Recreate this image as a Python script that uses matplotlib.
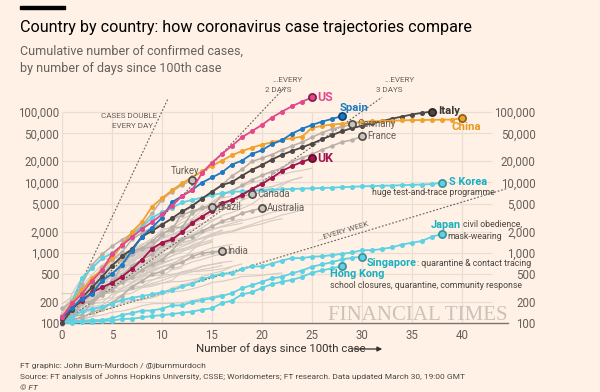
import matplotlib.pyplot as plt
from matplotlib.ticker import NullLocator

# === data: cumulative confirmed cases, day 0 = 100th case ===
us = [120, 190, 260, 400, 560, 960, 1280, 1660, 2180, 2730, 3500, 4630, 6420, 7790,
      13680, 19100, 25490, 33280, 43850, 53740, 65780, 83840, 101660, 121480, 140890, 161810]
spain = [120, 165, 222, 259, 400, 500, 673, 1073, 1695, 2277, 3146, 5232, 6391, 7798, 9942,
         11748, 13910, 17963, 20410, 25374, 28768, 35136, 39885, 49515, 57786, 65719, 73235,
         80110, 87956]
italy = [100, 155, 229, 322, 453, 655, 888, 1128, 1694, 2036, 2502, 3089, 3858, 4636, 5883,
         7375, 9172, 10149, 12462, 15113, 17660, 21157, 24747, 27980, 31506, 35713, 41035,
         47021, 53578, 59138, 63927, 69176, 74386, 80589, 86498, 92472, 97689, 101739]
china = [121, 198, 291, 440, 571, 830, 1287, 1975, 2744, 4515, 5974, 7711, 9692, 11791,
         14380, 17205, 20438, 24324, 28018, 31161, 34546, 37198, 40171, 42638, 44653, 59804,
         63851, 66492, 68500, 70548, 72436, 74185, 74576, 75465, 76288, 76936, 77150, 77658,
         78064, 78497, 81500]
uk = [115, 163, 206, 273, 321, 373, 456, 590, 798, 1140, 1391, 1543, 1950, 2626, 3269, 3983,
      5018, 5683, 6650, 8077, 9529, 11658, 14543, 17089, 19522, 22141]

germany = [130, 159, 196, 262, 482, 670, 799, 1040, 1176, 1457, 1908, 2078, 3675, 4585, 5795,
           7272, 9257, 12327, 15320, 19848, 22213, 24873, 29056, 32986, 37323, 43938, 50871,
           57695, 62095, 66885]
france = [100, 130, 191, 204, 288, 380, 656, 957, 1134, 1217, 1792, 2289, 2289, 3672, 4480,
          4513, 6650, 7652, 9043, 10871, 12612, 14282, 16018, 19856, 22304, 25233, 29155,
          32964, 37575, 40174, 45170]
turkey = [98, 191, 359, 670, 947, 1236, 1529, 1872, 2433, 3629, 5698, 7402, 9217, 10827]
canada = [108, 117, 193, 198, 252, 415, 478, 657, 800, 943, 1277, 1469, 2088, 2790, 3251,
          4042, 4682, 5576, 6280, 6900]
brazil = [162, 200, 321, 372, 621, 793, 1021, 1546, 1924, 2247, 2554, 2985, 3417, 3904,
          4256, 4450]
australia = [107, 128, 128, 200, 250, 297, 377, 452, 568, 681, 791, 1071, 1549, 1682, 2044,
             2364, 2810, 3143, 3640, 3984, 4300]
india = [102, 113, 119, 142, 156, 194, 244, 330, 396, 499, 536, 657, 727, 887, 987, 1024, 1070]

s_korea = [104, 204, 433, 602, 833, 977, 1261, 1766, 2337, 3150, 3736, 4335, 5186, 5621, 6088,
           6593, 7041, 7314, 7478, 7513, 7755, 7869, 7979, 8086, 8162, 8236, 8320, 8413, 8565,
           8652, 8799, 8897, 8961, 9037, 9137, 9241, 9332, 9478, 9900]
japan = [105, 122, 147, 159, 170, 189, 214, 228, 241, 256, 274, 293, 331, 360, 420, 461, 502,
         511, 581, 639, 639, 701, 773, 839, 839, 878, 889, 924, 963, 1007, 1086, 1086, 1128,
         1193, 1307, 1387, 1468, 1693, 1845]
singapore = [102, 106, 108, 110, 110, 117, 130, 138, 150, 150, 160, 178, 178, 200, 212, 226,
             243, 266, 313, 345, 385, 432, 455, 509, 558, 631, 683, 732, 802, 844, 879]
hong_kong = [100, 100, 104, 105, 107, 108, 114, 115, 120, 126, 129, 134, 140, 145, 155, 162,
             192, 208, 256, 273, 317, 356, 386, 410, 453, 518, 560, 600, 641]

# other countries, drawn as unlabelled background lines
others = [
    [114, 214, 268, 337, 374, 491, 652, 652, 1139, 1359, 2200, 2200, 2700, 3028, 4075, 5294,
     6575, 7474, 8795, 9877, 10897, 11811, 12928, 14076, 14829, 15922],
    [128, 188, 265, 321, 382, 503, 503, 804, 959, 1135, 1413, 1705, 2051, 2460, 2994, 3631,
     4204, 4749, 5560, 6412, 7431, 8603, 9762, 10866, 11750],
    [109, 169, 200, 239, 267, 314, 314, 559, 689, 886, 1058, 1243, 1486, 1795, 2257, 2815,
     3401, 3743, 4269, 4937, 6235, 7284, 9134, 10836, 11899],
    [104, 131, 182, 246, 302, 504, 655, 860, 1018, 1332, 1646, 2013, 2388, 2814, 3582, 4474,
     5283, 5588, 6909, 7657, 8271, 8788, 9618],
    [112, 169, 245, 331, 448, 448, 785, 1020, 1280, 1600, 2060, 2362, 2995, 3544, 4268, 5170,
     5962, 6408],
    [109, 131, 193, 213, 298, 337, 433, 677, 705, 883, 1071, 1238, 2369, 2693, 3035, 3619,
     4247, 4247, 4695],
    [101, 161, 203, 248, 355, 500, 599, 814, 961, 1022, 1103, 1190, 1279, 1439, 1639, 1763,
     1934, 2046, 2286, 2526, 2840, 3069, 3447, 3700, 4028],
    [108, 147, 176, 205, 400, 598, 702, 996, 1090, 1221, 1333, 1463, 1550, 1746, 1914, 2118,
     2385, 2621, 2863, 3084, 3369, 3755, 4015, 4284, 4445],
    [90, 264, 444, 617, 804, 836, 875, 933, 1025, 1116, 1225, 1337, 1420, 1514, 1572, 1718,
     1862, 1966, 2201, 2395, 2577, 2860, 3039],
    [149, 197, 238, 428, 566, 673, 790, 900, 1030, 1183, 1306, 1518, 1624, 1796, 2031, 2161,
     2320, 2470, 2626],
    [129, 169, 223, 292, 557, 683, 785, 906, 1125, 1329, 1564, 1819, 2121, 2415, 2615, 2910,
     3235],
    [116, 150, 214, 298, 383, 450, 560, 765, 889, 1047, 1161, 1287, 1472, 1763, 2022, 2395,
     2657, 2817, 3001],
    [155, 201, 238, 238, 434, 537, 632, 746, 922, 1142, 1306, 1610, 1909, 2139, 2449],
    [111, 168, 199, 367, 506, 789, 981, 1082, 1173, 1403, 1595, 1823, 1924, 1962],
    [101, 125, 177, 238, 251, 355, 425, 536, 634, 749, 901, 1051, 1221, 1389, 1638, 1862, 2055],
    [140, 203, 335, 484, 670, 798, 875, 1099, 1333, 1453, 1605, 1831, 1950, 1988],
    [187, 237, 301, 451, 495, 501, 730, 776, 875, 972, 1063, 1201, 1373, 1495, 1865],
    [140, 142, 187, 202, 217, 230, 307, 380, 462, 552, 636, 707, 803, 1075, 1418],
    [114, 147, 177, 212, 272, 322, 411, 599, 721, 827, 934, 1045, 1136, 1245, 1388, 1524],
    [103, 118, 171, 171, 274, 344, 392, 511, 562, 767, 900, 1012, 1104, 1203, 1299, 1453],
    [155, 225, 244, 277, 321, 336, 400, 450, 523, 626, 700, 792, 880, 958, 1041, 1167, 1240,
     1313],
    [99, 190, 228, 331, 331, 387, 418, 418, 495, 530, 624, 695, 743, 821, 892, 966, 1061, 1156],
    [117, 134, 172, 227, 311, 369, 450, 514, 579, 686, 790, 893, 1046, 1155, 1285, 1414],
    [103, 134, 156, 171, 180, 220, 250, 330, 409, 473, 568, 588, 648, 737, 802, 890, 963, 1020,
     1086],
    [114, 147, 199, 253, 306, 367, 438, 495, 658, 840, 1036, 1264, 1534, 1836],
    [118, 164, 203, 251, 316, 367, 405, 475, 585, 717, 848, 993, 1094],
    [123, 131, 158, 184, 260, 277, 308, 367, 433, 576, 762, 906, 1029, 1292, 1452, 1815, 2109],
    [113, 140, 140, 153, 153, 198, 248, 333, 333, 405, 468, 570, 611],
    [141, 181, 219, 253, 275, 275, 286, 341, 383, 414, 442, 480, 528, 562, 632, 684, 730, 756],
    [105, 128, 206, 254, 315, 382, 442, 495, 586, 657, 713, 790],
    [117, 145, 234, 234, 318, 363, 395, 416, 480, 580, 635, 671, 852, 950],
    [128, 158, 266, 301, 387, 387, 502, 589, 690, 745, 820],
    [102, 128, 196, 231, 277, 378, 470, 491, 539, 608, 702, 798],
    [262, 262, 320, 337, 401, 439, 442, 452, 460, 470, 481, 494, 526, 537, 549, 562, 590, 634,
     693],
    [109, 110, 189, 189, 195, 195, 210, 214, 214, 228, 256, 278, 285, 305, 334, 377, 392, 419,
     458, 466, 476, 499, 515],
    [109, 110, 150, 196, 196, 256, 285, 294, 327, 366, 402, 456, 495, 536, 576, 609, 656],
    [115, 171, 205, 225, 258, 267, 283, 306, 326, 352, 369, 404, 538, 575, 645, 679, 715],
    [100, 104, 112, 123, 130, 142, 148, 159, 176, 188, 189, 191, 195, 208, 225, 235, 255],
    [101, 110, 116, 124, 154, 164, 192, 208, 214, 233, 266, 316, 346, 382, 458, 506, 547, 630],
    [109, 120, 133, 157, 163, 187, 248, 267, 318, 333, 368, 386, 391, 412, 438, 446],
    [116, 150, 202, 240, 274, 402, 554, 709, 927, 1170, 1187, 1280, 1326],
    [103, 135, 171, 222, 249, 303, 384, 384, 457, 659, 741, 785],
]

y_ticks = [100, 200, 500, 1000, 2000, 5000, 10000, 20000, 50000, 100000]
y_labels = ["100", "200", "500", "1,000", "2,000", "5,000", "10,000", "20,000", "50,000",
            "100,000"]
x_ticks = list(range(0, 45, 5))

# doubling-time guides: days per doubling, and the day where each guide stops
guide_days = [1, 2, 3, 7]
guide_end = [10.6, 22.3, 32.0, 44.6]

# === colours ===
BG = "#FFF1E5"
GRID = "#EADDD2"
TXT = "#66605C"
DARK = "#33302E"
NOTE = "#4A4643"
GREY_BG = "#D4CBC3"
GREY = "#B8AFA8"
CYAN = "#5DD2E2"
CYAN_TXT = "#17AFC2"

W, H = 600, 392
plt.rcParams["font.family"] = ["Roboto", "DejaVu Sans"]

fig = plt.figure(figsize=(W / 100, H / 100), dpi=100, facecolor=BG)
ax = fig.add_axes([62 / W, 1 - 323 / H, 446 / W, 243 / H])
ax.set_facecolor(BG)
ax.set_yscale("log")
ax.set_xlim(0, 44.6)
ax.set_ylim(100, 10 ** 5.457)
ax.yaxis.set_minor_locator(NullLocator())
ax.set_yticks(y_ticks)
ax.set_yticklabels(y_labels)
ax.set_xticks(x_ticks)
ax.tick_params(length=0, labelsize=8.3, colors=TXT)
ax.tick_params(axis="y", pad=2)
ax.tick_params(axis="x", pad=4)
for s in ["top", "right", "left"]:
    ax.spines[s].set_visible(False)
ax.spines["bottom"].set_color("#7A736D")
ax.spines["bottom"].set_linewidth(1.0)

# right-hand labels
ax2 = ax.twinx()
ax2.set_yscale("log")
ax2.set_ylim(ax.get_ylim())
ax2.yaxis.set_minor_locator(NullLocator())
ax2.set_yticks(y_ticks)
ax2.set_yticklabels(y_labels)
ax2.tick_params(length=0, labelsize=8.3, colors=TXT, pad=20)
for lab_ in ax2.get_yticklabels():
    lab_.set_horizontalalignment("right")
for s in ax2.spines.values():
    s.set_visible(False)

# grid
ax.hlines(y_ticks[1:], 0, 43, color=GRID, lw=0.9, zorder=0)
ax.vlines(x_ticks, 100, 100000, color=GRID, lw=0.9, zorder=0)

# doubling guides
for k, end in zip(guide_days, guide_end):
    ax.plot([0, end], [100, 100 * 2 ** (end / k)], color=TXT, lw=0.8,
            ls=(0, (1.6, 1.6)), zorder=2, clip_on=False)


def draw(vals, color, lw=1.3, ms=2.6, z=4):
    ax.plot(range(len(vals)), vals, color=color, lw=lw, marker="o", ms=ms, zorder=z,
            clip_on=False)


def end_dot(vals, face, edge, z=6):
    ax.plot(len(vals) - 1, vals[-1], "o", ms=5.2, mfc=face, mec=edge, mew=1.2, zorder=z,
            clip_on=False)


for v in others:
    ax.plot(range(len(v)), v, color=GREY_BG, lw=0.8, zorder=1, clip_on=False)

for v in [germany, france, turkey, canada, brazil, australia, india]:
    draw(v, GREY, lw=1.1, ms=2.2, z=3)
    end_dot(v, "#C9C1BA", "#4E4A47")

for v in [hong_kong, singapore, japan, s_korea]:
    draw(v, CYAN, lw=1.3, ms=2.6, z=4)
    end_dot(v, CYAN, "#3B8F9A")

draw(uk, "#A3154C", z=5)
end_dot(uk, "#A3154C", "#5E0A2A")
draw(italy, "#4D4845", z=5)
end_dot(italy, "#4D4845", "#262321")
draw(china, "#F0A12E", z=5)
end_dot(china, "#F0A12E", "#8A5A12")
draw(spain, "#1C79C3", z=6)
end_dot(spain, "#1C79C3", "#0C3F6E")
draw(us, "#E4488A", z=6)
end_dot(us, "#E4488A", "#7A1F45")


def lab(text, vals, dx, dy, color, bold=False, size=8.0, ha="left", va="center"):
    return ax.annotate(text, xy=(len(vals) - 1, vals[-1]), xytext=(dx, dy),
                       textcoords="offset pixels", color=color, fontsize=size,
                       fontweight="bold" if bold else "normal", ha=ha, va=va, zorder=8,
                       annotation_clip=False)


lab("US", us, 5, 0, "#E4488A", bold=True, size=8.8)
lab("Spain", spain, 12, 8, "#1F7BC2", bold=True, size=8.2, ha="center")
lab("Italy", italy, 6, 1, "#3D3936", bold=True, size=8.2)
lab("China", china, 4, -9, "#E8991F", bold=True, size=8.2, ha="center")
lab("UK", uk, 5, 0, "#A3154C", bold=True, size=8.8)
lab("Germany", germany, 5, 0, TXT, size=6.9)
lab("France", france, 5, 0, TXT, size=6.9)
lab("Turkey", turkey, -7, 9, TXT, size=6.9, ha="center")
lab("Canada", canada, 5, 0, TXT, size=6.9)
lab("Brazil", brazil, 5, 0, TXT, size=6.9)
lab("Australia", australia, 5, 0, TXT, size=6.9)
lab("India", india, 5, 0, TXT, size=6.9)
lab("S Korea", s_korea, 7, 1, CYAN_TXT, bold=True, size=7.8)
lab("huge test-and-trace programme", s_korea, 53, -10, NOTE, size=6.3, ha="right")
lab("Japan", japan, 4, 9, CYAN_TXT, bold=True, size=7.8, ha="center")
lab("civil obedience,", japan, 21, 10, NOTE, size=6.3)
lab("mask-wearing", japan, 5, -2, NOTE, size=6.3)
t_sg = lab("Singapore", singapore, 5, -6, CYAN_TXT, bold=True, size=7.8)
ax.annotate(": quarantine & contact tracing", xy=(1, 0), xycoords=t_sg, va="bottom",
            ha="left", color=NOTE, fontsize=6.3, zorder=8)
lab("Hong Kong", hong_kong, -12, -8, CYAN_TXT, bold=True, size=7.8)
lab("school closures, quarantine, community response", hong_kong, -12, -19, NOTE, size=6.3)


def ftext(x, y, s, **kw):
    fig.text(x / W, 1 - y / H, s, **kw)


# guide labels
gkw = dict(fontsize=5.8, color=TXT, va="baseline")
ftext(157, 118, "CASES DOUBLE", ha="right", **gkw)
ftext(153, 128, "EVERY DAY", ha="right", **gkw)
ftext(272, 82, "...EVERY", ha="left", **gkw)
ftext(265, 92, "2 DAYS", ha="left", **gkw)
ftext(384, 82, "...EVERY", ha="left", **gkw)
ftext(376, 92, "3 DAYS", ha="left", **gkw)
ftext(318, 241, "...EVERY WEEK", ha="left", rotation=16.8, rotation_mode="anchor", **gkw)

# watermark
ftext(508, 320, "FINANCIAL TIMES", ha="right", va="baseline", fontsize=15,
      family="Liberation Serif", color="#CCC2B9")

# titles
fig.patches.append(plt.Rectangle((20 / W, 1 - 9 / H), 45 / W, 3 / H, transform=fig.transFigure,
                                 color="#000000", figure=fig))
ftext(20, 32, "Country by country: how coronavirus case trajectories compare", fontsize=11.6,
      color="#000000", va="baseline")
ftext(20, 55, "Cumulative number of confirmed cases,", fontsize=9, color=TXT, va="baseline")
ftext(20, 72, "by number of days since 100th case", fontsize=9, color=TXT, va="baseline")

# x label with arrow
ftext(196, 352, "Number of days since 100th case", fontsize=8.2, color=DARK, va="baseline")
ax.annotate("", xy=(385 / W, 1 - 349 / H), xytext=(351 / W, 1 - 349 / H),
            xycoords="figure fraction", textcoords="figure fraction",
            arrowprops=dict(arrowstyle="-|>", color=DARK, lw=0.9, mutation_scale=7))

# footer
fkw = dict(fontsize=6.0, color=NOTE, va="baseline")
ftext(20, 368, "FT graphic: John Burn-Murdoch / @jburnmurdoch", **fkw)
ftext(20, 379, "Source: FT analysis of Johns Hopkins University, CSSE; Worldometers; FT research. "
               "Data updated March 30, 19:00 GMT", **fkw)
ftext(20, 390, "© FT", style="italic", **fkw)

fig.savefig("out.png", dpi=100, facecolor=BG)
